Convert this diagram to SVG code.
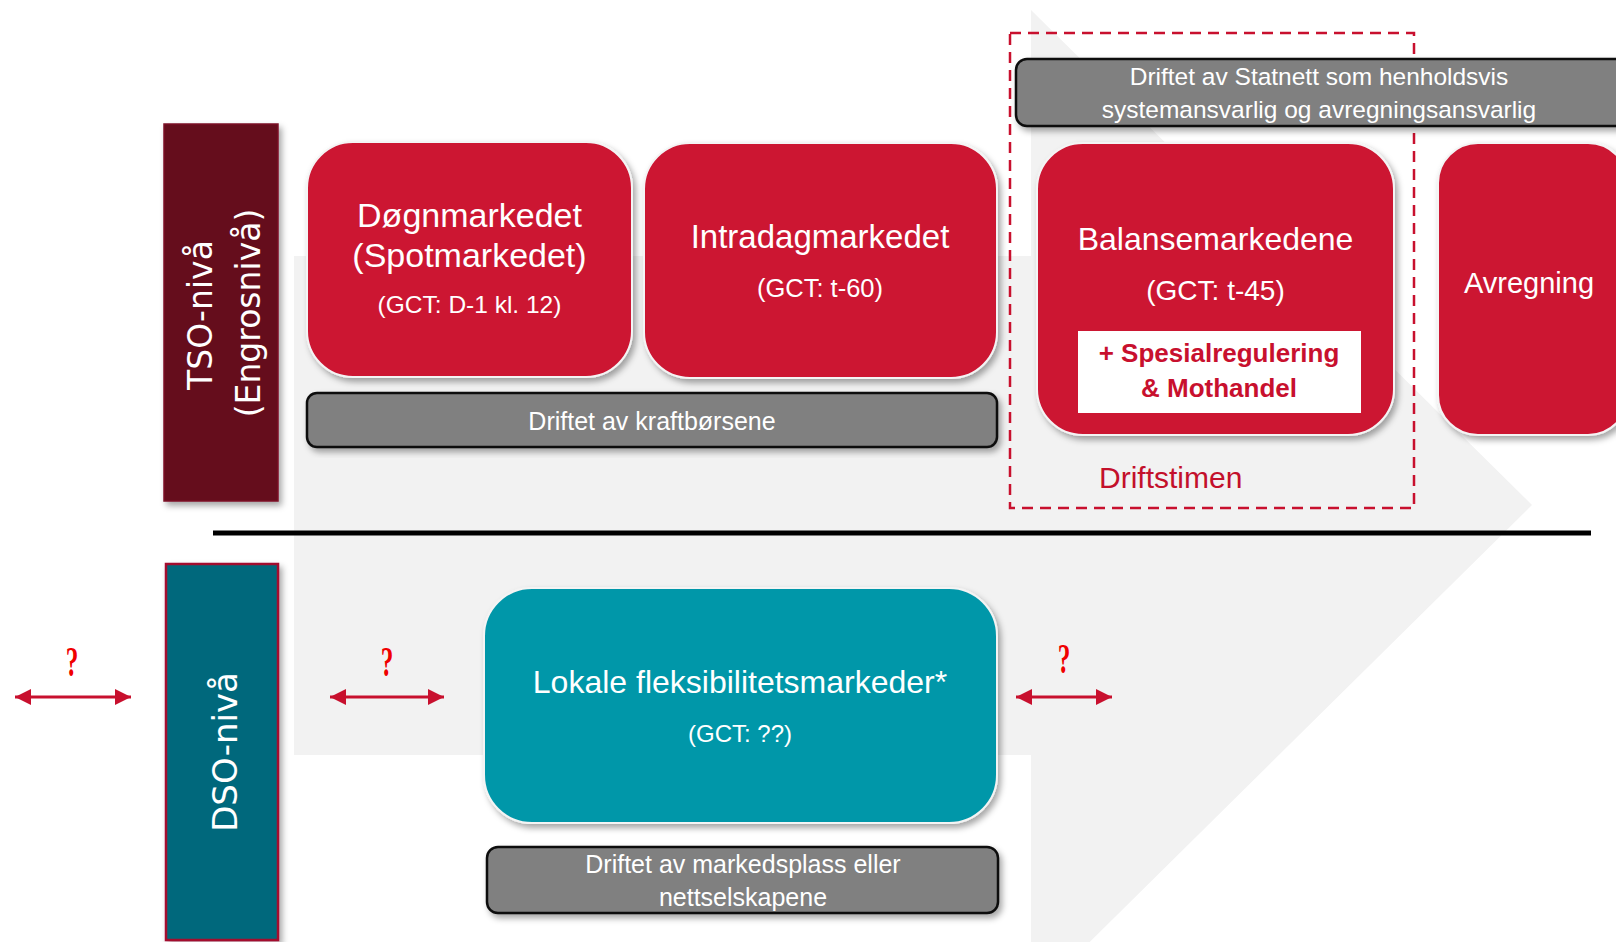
<svg xmlns="http://www.w3.org/2000/svg" width="1616" height="942" viewBox="0 0 1616 942">
<style>
.lbl{font-family:"Liberation Sans",Arial,sans-serif;fill:#ffffff;text-anchor:middle}
.vert{font-family:"DejaVu Sans",Verdana,sans-serif;fill:#ffffff;text-anchor:middle}
.red{fill:#cc1433;stroke:#f4f4f4;stroke-width:2}
.teal{fill:#0497a9;stroke:#f4f4f4;stroke-width:2}
.bar{fill:#808080;stroke:#111111;stroke-width:2.5}
.q{font-family:"Liberation Serif","Times New Roman",serif;font-weight:bold;fill:#f00000;text-anchor:middle;font-size:42px}
.conn{stroke:#c8102e;stroke-width:3;fill:none;marker-start:url(#ah);marker-end:url(#ah)}
</style>
<defs>
<filter id="sh" x="-10%" y="-10%" width="130%" height="130%">
<feDropShadow dx="3" dy="4" stdDeviation="3" flood-color="#000" flood-opacity="0.35"/>
</filter>
<marker id="ah" viewBox="0 0 16 16" refX="16" refY="8" markerWidth="16" markerHeight="16" markerUnits="userSpaceOnUse" orient="auto-start-reverse">
<path d="M0,0 L16,8 L0,16 z" fill="#c8102e"/>
</marker>
</defs>
<rect width="1616" height="942" fill="#ffffff"/>
<g id="bg-arrow">
<polygon points="294,256 1031,256 1031,10 1532,505 1031,1000 1031,755 294,755" fill="#f2f2f2"/>
</g>
<g id="divider">
<line x1="213" y1="533" x2="1591" y2="533" stroke="#000" stroke-width="5"/>
</g>
<g id="tso-level">
<rect x="164" y="124" width="114" height="377" fill="#650a1b" stroke="#7c1426" stroke-width="1.5" filter="url(#sh)"/>
<text class="vert" font-size="33" transform="translate(212,315) rotate(-90)">TSO-nivå</text>
<text class="vert" font-size="33" transform="translate(260,313) rotate(-90)">(Engrosnivå)</text>
</g>
<g id="dso-level">
<rect x="166" y="564" width="112" height="376" fill="#03687c" stroke="#a3102e" stroke-width="2.5" filter="url(#sh)"/>
<text class="vert" font-size="34" transform="translate(237,752) rotate(-90)">DSO-nivå</text>
</g>
<g id="driftstimen">
<rect x="1010" y="33" width="404" height="475" fill="none" stroke="#c8102e" stroke-width="2.5" stroke-dasharray="11,7"/>
<text x="1099" y="488" font-family="'Liberation Sans',Arial,sans-serif" font-size="30" fill="#c3102b">Driftstimen</text>
</g>
<g id="statnett-bar">
<rect x="1016" y="59" width="620" height="67" rx="11" class="bar" filter="url(#sh)"/>
<text class="lbl" font-size="24.5" x="1319" y="85">Driftet av Statnett som henholdsvis</text>
<text class="lbl" font-size="24.5" x="1319" y="118">systemansvarlig og avregningsansvarlig</text>
</g>
<g id="dognmarkedet">
<rect x="307" y="142" width="325" height="235" rx="46" class="red" filter="url(#sh)"/>
<text class="lbl" font-size="34" x="469.5" y="227">Døgnmarkedet</text>
<text class="lbl" font-size="34" x="469.5" y="267">(Spotmarkedet)</text>
<text class="lbl" font-size="24.5" x="469.5" y="313">(GCT: D-1 kl. 12)</text>
</g>
<g id="intradagmarkedet">
<rect x="644" y="143" width="353" height="235" rx="46" class="red" filter="url(#sh)"/>
<text class="lbl" font-size="33" x="820" y="248">Intradagmarkedet</text>
<text class="lbl" font-size="25.5" x="820" y="297">(GCT: t-60)</text>
</g>
<g id="kraftborsene-bar">
<rect x="307" y="393" width="690" height="54" rx="10" class="bar" filter="url(#sh)"/>
<text class="lbl" font-size="25" x="652" y="430">Driftet av kraftbørsene</text>
</g>
<g id="balansemarkedene">
<rect x="1037" y="143" width="357" height="292" rx="46" class="red" filter="url(#sh)"/>
<text class="lbl" font-size="32" x="1215.5" y="250">Balansemarkedene</text>
<text class="lbl" font-size="28" x="1215.5" y="300">(GCT: t-45)</text>
<rect x="1078" y="331" width="283" height="82" fill="#ffffff"/>
<text class="lbl" font-size="26" font-weight="bold" x="1219" y="362" style="fill:#c8102e">+ Spesialregulering</text>
<text class="lbl" font-size="26" font-weight="bold" x="1219" y="397" style="fill:#c8102e">&amp; Mothandel</text>
</g>
<g id="avregning">
<rect x="1438" y="143" width="190" height="292" rx="40" class="red" filter="url(#sh)"/>
<text class="lbl" font-size="29" x="1529" y="293">Avregning</text>
</g>
<g id="lokale-fleks">
<rect x="484" y="588" width="513" height="235" rx="48" class="teal" filter="url(#sh)"/>
<text class="lbl" font-size="32" x="740" y="693">Lokale fleksibilitetsmarkeder*</text>
<text class="lbl" font-size="24" x="740" y="742">(GCT: ??)</text>
</g>
<g id="markedsplass-bar">
<rect x="487" y="847" width="511" height="66" rx="11" class="bar" filter="url(#sh)"/>
<text class="lbl" font-size="25" x="743" y="873">Driftet av markedsplass eller</text>
<text class="lbl" font-size="25" x="743" y="906">nettselskapene</text>
</g>
<g id="connectors">
<line class="conn" x1="15" y1="697" x2="131" y2="697"/>
<text class="q" transform="translate(72,676) scale(0.6,1)">?</text>
<line class="conn" x1="330" y1="697" x2="444" y2="697"/>
<text class="q" transform="translate(387,676) scale(0.6,1)">?</text>
<line class="conn" x1="1016" y1="697" x2="1112" y2="697"/>
<text class="q" transform="translate(1064,673) scale(0.6,1)">?</text>
</g>
</svg>
